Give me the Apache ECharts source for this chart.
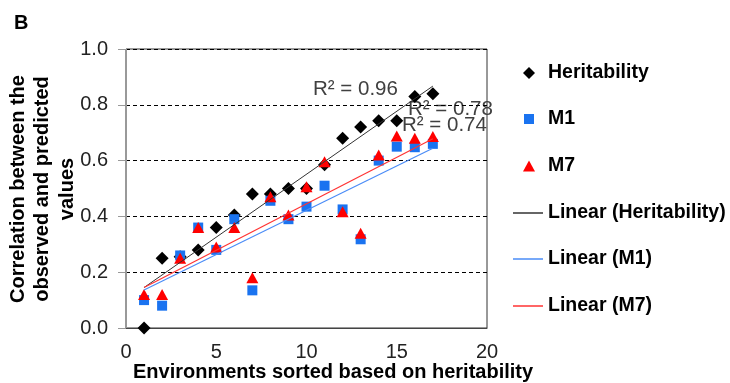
<!DOCTYPE html>
<html>
<head>
<meta charset="utf-8">
<script src="https://cdn.jsdelivr.net/npm/echarts@6/dist/echarts.min.js"></script>
<style>
  html, body { margin: 0; padding: 0; background: #fff; }
  #chart { width: 730px; height: 383px; }
</style>
</head>
<body>
<div id="chart"></div>
<script>
// environments (sorted on heritability)
var environments = [1, 2, 3, 4, 5, 6, 7, 8, 9, 10, 11, 12, 13, 14, 15, 16, 17]
var heritability = [0.0, 0.25, 0.255, 0.28, 0.36, 0.405, 0.48, 0.48, 0.5, 0.5, 0.585, 0.68, 0.72, 0.743, 0.743, 0.83, 0.84]
var m1 = [0.10, 0.08, 0.26, 0.36, 0.28, 0.39, 0.135, 0.456, 0.39, 0.435, 0.51, 0.425, 0.318, 0.60, 0.65, 0.648, 0.66]
var m7 = [0.12, 0.12, 0.25, 0.36, 0.29, 0.36, 0.18, 0.47, 0.405, 0.506, 0.596, 0.417, 0.34, 0.62, 0.688, 0.68, 0.686]

// trendline end points
var trendX = [1, 17]
var trendHeritability = [0.145, 0.867]
var trendM1 = [0.136, 0.644]
var trendM7 = [0.145, 0.678]

var r2Labels = ['R² = 0.96', 'R² = 0.78', 'R² = 0.74']
var xTitle = 'Environments sorted based on heritability'
var yTitleLines = ['Correlation between the', 'observed and predicted', 'values']

var FONT = "'Liberation Sans', Arial, sans-serif"

function pairs(xs, ys) {
  return xs.map(function(x, i) { return [x, ys[i]] })
}

var chart = echarts.init(document.getElementById('chart'))

function legendAt(name, top, left, w, h, gap, icon) {
  var lg = {
    data: [name],
    top: top,
    left: left,
    padding: 0,
    itemWidth: w,
    itemHeight: h,
    itemGap: 0,
    textStyle: {
      fontFamily: FONT,
      fontSize: 19.5,
      fontWeight: 'bold',
      color: '#000',
      lineHeight: 22,
      padding: [0, 0, 0, gap - 5]
    },
    selectedMode: false
  }
  if (icon) lg.icon = icon
  return lg
}

var yTitle = yTitleLines.map(function(t, i) {
  return {
    type: 'text',
    x: 18 + i * 24.5,
    y: 189,
    rotation: Math.PI / 2,
    style: {
      text: t,
      font: 'bold 20px ' + FONT,
      fill: '#000',
      textAlign: 'center',
      textVerticalAlign: 'middle'
    }
  }
})

chart.setOption({
  animation: false,
  grid: {
    left: 126,
    right: 243,
    top: 49,
    bottom: 55,
    show: true,
    borderColor: '#333',
    borderWidth: 1
  },
  xAxis: {
    type: 'value',
    min: 0,
    max: 20,
    interval: 5,
    axisLine: { lineStyle: { color: '#444' } },
    axisTick: { show: false },
    axisLabel: { fontFamily: FONT, fontSize: 20, color: '#222', margin: 14 },
    splitLine: { show: false }
  },
  yAxis: {
    type: 'value',
    min: 0,
    max: 1,
    interval: 0.2,
    axisLine: { show: true, lineStyle: { color: '#999' } },
    axisTick: { show: true, length: 8, lineStyle: { color: '#999' } },
    axisLabel: {
      fontFamily: FONT,
      fontSize: 20,
      color: '#222',
      margin: 18,
      formatter: function(v) { return v.toFixed(1) }
    },
    splitLine: { show: true, lineStyle: { color: '#000', type: [4, 3], width: 1 } }
  },
  legend: [
    legendAt('Heritability', 62, 523, 12, 12, 13),
    legendAt('M1', 108, 524, 10, 10, 14),
    legendAt('M7', 155, 523, 12, 11, 13),
    legendAt('Linear (Heritability)', 202, 513, 30, 1.5, 5, 'rect'),
    legendAt('Linear (M1)', 248, 513, 30, 1.5, 5, 'rect'),
    legendAt('Linear (M7)', 295, 513, 30, 1.5, 5, 'rect')
  ],
  graphic: [
    {
      type: 'text', left: 14, top: 13,
      style: { text: 'B', font: 'bold 20px ' + FONT, fill: '#000' }
    },
    {
      type: 'text', left: 133, top: 362,
      style: { text: xTitle, font: 'bold 20px ' + FONT, fill: '#000' }
    },
    {
      type: 'text', left: 313, top: 79,
      style: { text: r2Labels[0], font: '20.5px ' + FONT, fill: '#404040' }
    },
    {
      type: 'text', left: 408, top: 99,
      style: { text: r2Labels[1], font: '20.5px ' + FONT, fill: '#404040' }
    },
    {
      type: 'text', left: 402, top: 115,
      style: { text: r2Labels[2], font: '20.5px ' + FONT, fill: '#404040' }
    }
  ].concat(yTitle),
  series: [
    {
      name: 'Heritability',
      type: 'scatter',
      symbol: 'diamond',
      symbolSize: 13,
      itemStyle: { color: '#000', opacity: 1 },
      data: pairs(environments, heritability)
    },
    {
      name: 'M1',
      type: 'scatter',
      symbol: 'rect',
      symbolSize: 10,
      itemStyle: { color: '#1a73f0', opacity: 1 },
      data: pairs(environments, m1)
    },
    {
      name: 'M7',
      type: 'scatter',
      symbol: 'triangle',
      symbolSize: [12, 11],
      itemStyle: { color: '#ff0000', opacity: 1 },
      data: pairs(environments, m7)
    },
    {
      name: 'Linear (Heritability)',
      type: 'line',
      symbol: 'none',
      lineStyle: { color: '#333', width: 1 },
      itemStyle: { color: '#333' },
      data: pairs(trendX, trendHeritability),
      z: 5
    },
    {
      name: 'Linear (M1)',
      type: 'line',
      symbol: 'none',
      lineStyle: { color: '#4a8cf7', width: 1.2 },
      itemStyle: { color: '#4a8cf7' },
      data: pairs(trendX, trendM1),
      z: 5
    },
    {
      name: 'Linear (M7)',
      type: 'line',
      symbol: 'none',
      lineStyle: { color: '#ff3333', width: 1.2 },
      itemStyle: { color: '#ff3333' },
      data: pairs(trendX, trendM7),
      z: 5
    }
  ]
})
</script>
</body>
</html>
